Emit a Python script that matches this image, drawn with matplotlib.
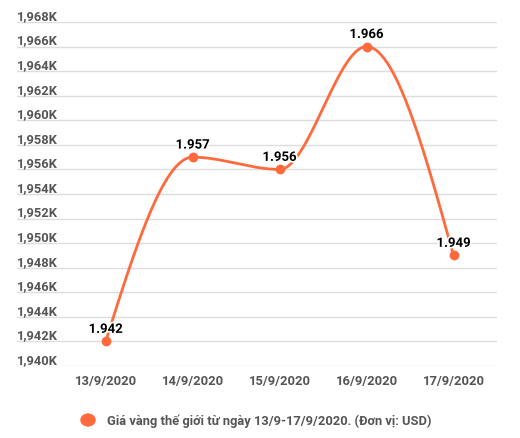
import numpy as np
import matplotlib
matplotlib.use("Agg")
import matplotlib.pyplot as plt
import matplotlib.patheffects as pe
from matplotlib.transforms import blended_transform_factory

plt.rcParams["font.family"] = ["Roboto", "DejaVu Sans"]

dates = ["13/9/2020", "14/9/2020", "15/9/2020", "16/9/2020", "17/9/2020"]
prices = [1942, 1957, 1956, 1966, 1949]
point_labels = ["1.942", "1.957", "1.956", "1.966", "1.949"]
y_ticks = list(range(1940, 1970, 2))
legend_label = "Giá vàng thế giới từ ngày 13/9-17/9/2020. (Đơn vị: USD)"

LINE = "#ff6a3d"
GRID = "#dddddd"
TXT = "#555555"


def monotone_curve(x, y, n=60):
    # monotone cubic like d3.curveMonotoneX
    x = np.asarray(x, float)
    y = np.asarray(y, float)
    h = np.diff(x)
    s = np.diff(y) / h
    m = np.zeros(len(x))
    for i in range(1, len(x) - 1):
        p = (s[i - 1] * h[i] + s[i] * h[i - 1]) / (h[i - 1] + h[i])
        m[i] = (np.sign(s[i - 1]) + np.sign(s[i])) * min(abs(s[i - 1]), abs(s[i]), 0.5 * abs(p))
    m[0] = (3 * s[0] - m[1]) / 2
    m[-1] = (3 * s[-1] - m[-2]) / 2
    xs, ys = [], []
    for i in range(len(x) - 1):
        t = np.linspace(0, 1, n)
        h00 = 2 * t**3 - 3 * t**2 + 1
        h10 = t**3 - 2 * t**2 + t
        h01 = -2 * t**3 + 3 * t**2
        h11 = t**3 - t**2
        xs.append(x[i] + t * h[i])
        ys.append(h00 * y[i] + h10 * h[i] * m[i] + h01 * y[i + 1] + h11 * h[i] * m[i + 1])
    return np.concatenate(xs), np.concatenate(ys)


fig = plt.figure(figsize=(5.2, 4.39), dpi=100)
ax = fig.add_axes([17 / 520, 1 - 367 / 439, 480 / 520, 344 / 439])

xpos = np.arange(len(dates))
ax.set_xlim(-1.02, 4.5)
ax.set_ylim(1940, 1968)

for v in y_ticks:
    ax.axhline(v, color=GRID, lw=1, zorder=0)

trans = blended_transform_factory(ax.transAxes, ax.transData)
for v in y_ticks:
    ax.text(0, v, f"{v // 1000},{v % 1000:03d}K", transform=trans, ha="left",
            va="bottom", fontsize=9.3, color=TXT, fontweight="bold")

cx, cy = monotone_curve(xpos, prices)
ax.plot(cx, cy, color=LINE, lw=2, zorder=2, solid_capstyle="round")
ax.scatter(xpos, prices, s=50, color=LINE, zorder=3, linewidths=0)

for xi, yi, lab in zip(xpos, prices, point_labels):
    ax.annotate(lab, (xi, yi), xytext=(0, 4), textcoords="offset points",
                ha="center", va="bottom", fontsize=9.5, fontweight="bold",
                color="black", zorder=4,
                path_effects=[pe.withStroke(linewidth=2.5, foreground="white")])

ax.set_xticks(xpos)
ax.set_xticklabels(dates, fontsize=9.4, color=TXT, fontweight="bold")
ax.set_yticks([])
ax.tick_params(axis="x", length=0, pad=6)
for sp in ax.spines.values():
    sp.set_visible(False)

fig.patches.append(plt.Circle((88 / 520, 1 - 421 / 439), 7 / 520, color=LINE,
                              transform=fig.transFigure, figure=fig))
fig.text(107 / 520, 1 - 421 / 439, legend_label, ha="left", va="center",
         fontsize=9.3, color=TXT, fontweight="bold")

fig.savefig("out.png", dpi=100, facecolor="white")
